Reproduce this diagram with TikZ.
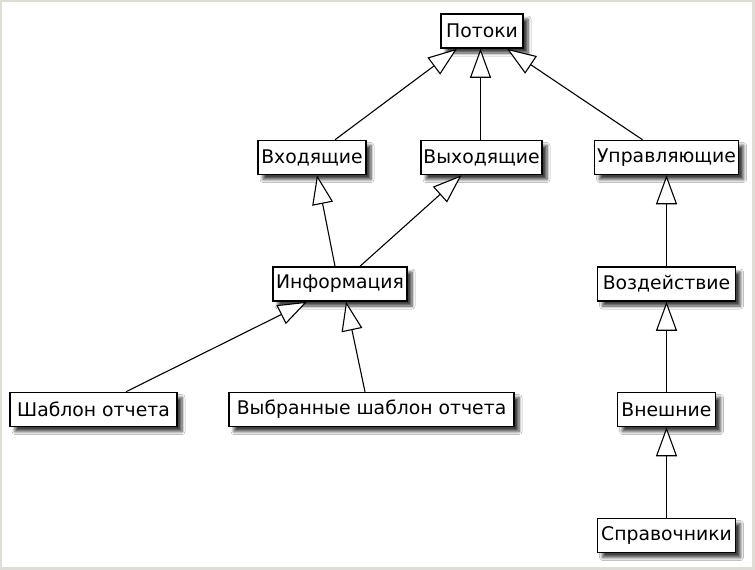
\documentclass[tikz,border=0pt]{standalone}
\usepackage{fontspec}
\setmainfont{DejaVu Sans}
\usetikzlibrary{arrows.meta,shadows.blur}

\definecolor{framegray}{RGB}{224,222,212}

\tikzset{
  cls/.style={draw=black, line width=1.5pt, fill=white, minimum height=34pt,
    inner sep=0pt, font=\fontsize{18.8}{22}\selectfont,
    blur shadow={shadow xshift=5pt, shadow yshift=-5pt,
      shadow blur radius=3pt, shadow blur steps=6, shadow opacity=75}},
  ext/.style={draw=black, line width=1.1pt,
    -{Triangle[length=29pt, width=21pt, fill=white, line width=1.1pt]}}
}

\begin{document}
\begin{tikzpicture}[x=1pt, y=-1pt]
  % page frame
  \fill[framegray] (0,0) rectangle (755,570);
  \fill[white] (2,2) rectangle (752,567);
  \useasboundingbox (0,0) rectangle (755,570);

  % class boxes
  \node[cls, minimum width=82pt]  (potoki)  at (482,31)    {Потоки};
  \node[cls, minimum width=108pt] (vhod)    at (312,157.5) {Входящие};
  \node[cls, minimum width=121pt] (vyhod)   at (481.5,157.5) {Выходящие};
  \node[cls, minimum width=144pt] (uprav)   at (666.5,157.5) {Управляющие};
  \node[cls, minimum width=134pt] (info)    at (340,284)   {Информация};
  \node[cls, minimum width=138pt] (vozd)    at (666.5,284)   {Воздействие};
  \node[cls, minimum width=167pt] (shablon) at (93.5,409.5) {Шаблон отчета};
  \node[cls, minimum width=285pt] (vybr)    at (371.5,409.5) {Выбранные шаблон отчета};
  \node[cls, minimum width=98pt]  (vnesh)   at (666.5,409.5) {Внешние};
  \node[cls, minimum width=138pt] (sprav)   at (666.5,535.5) {Справочники};

  % generalisation links
  \draw[ext] ([xshift=23pt]vhod.north)     -- ([xshift=-25pt]potoki.south);
  \draw[ext] ([xshift=-1pt]vyhod.north)    -- ([xshift=-1.5pt]potoki.south);
  \draw[ext] ([xshift=-24pt]uprav.north)   -- ([xshift=25pt]potoki.south);
  \draw[ext] ([xshift=-5pt]info.north)     -- ([xshift=5pt]vhod.south);
  \draw[ext] ([xshift=20pt]info.north)     -- ([xshift=-20pt]vyhod.south);
  \draw[ext] ([xshift=32.5pt]shablon.north) -- ([xshift=-33pt]info.south);
  \draw[ext] ([xshift=-6.5pt]vybr.north)   -- ([xshift=6pt]info.south);
  \draw[ext] (vozd.north)  -- (uprav.south);
  \draw[ext] (vnesh.north) -- (vozd.south);
  \draw[ext] (sprav.north) -- (vnesh.south);
\end{tikzpicture}
\end{document}
